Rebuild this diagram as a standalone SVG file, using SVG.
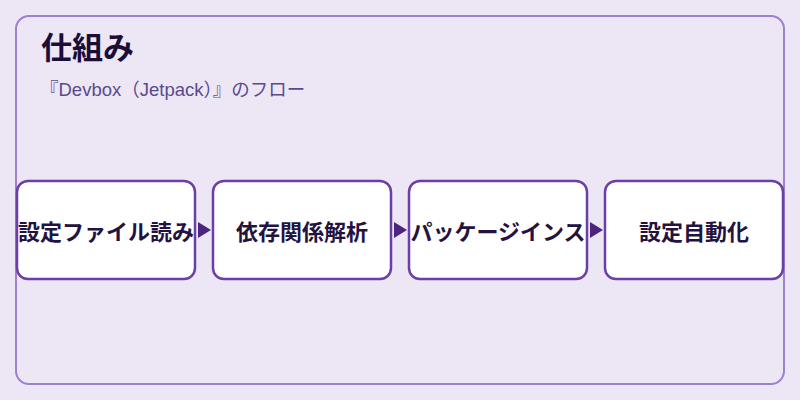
<svg xmlns="http://www.w3.org/2000/svg" width="800" height="400" viewBox="0 0 800 400">
<style>
.node rect{fill:#ffffff;stroke:#6b3fa6;stroke-width:2.5}
.node text{font-family:"Noto Sans CJK JP","Noto Sans",sans-serif;font-size:22px;font-weight:bold;fill:#24123f;text-anchor:middle;dominant-baseline:central}
.arrow{fill:#4b2580}
</style>
<rect x="0" y="0" width="800" height="400" fill="#ede6f5"/>
<rect x="16" y="16" width="768" height="368" rx="13" fill="none" stroke="#9e80d0" stroke-width="2"/>
<text x="41" y="59" font-family="'Noto Sans CJK JP','Noto Sans',sans-serif" font-size="31" font-weight="bold" fill="#1c0d38">仕組み</text>
<text x="40" y="96" font-family="'Liberation Sans','Noto Sans CJK JP',sans-serif" font-size="18.5" fill="#5a4a8c">『Devbox（Jetpack）』のフロー</text>
<g id="node1" class="node"><rect x="17" y="181" width="178" height="98" rx="11"/><text x="106" y="230">設定ファイル読み</text></g>
<g id="node2" class="node"><rect x="213" y="181" width="178" height="98" rx="11"/><text x="302" y="230">依存関係解析</text></g>
<g id="node3" class="node"><rect x="409" y="181" width="178" height="98" rx="11"/><text x="498" y="230">パッケージインス</text></g>
<g id="node4" class="node"><rect x="605" y="181" width="178" height="98" rx="11"/><text x="694" y="230">設定自動化</text></g>
<g id="connectors">
<polygon class="arrow" points="198,222 211,230 198,238"/>
<polygon class="arrow" points="394,222 407,230 394,238"/>
<polygon class="arrow" points="590,222 603,230 590,238"/>
</g>
</svg>
